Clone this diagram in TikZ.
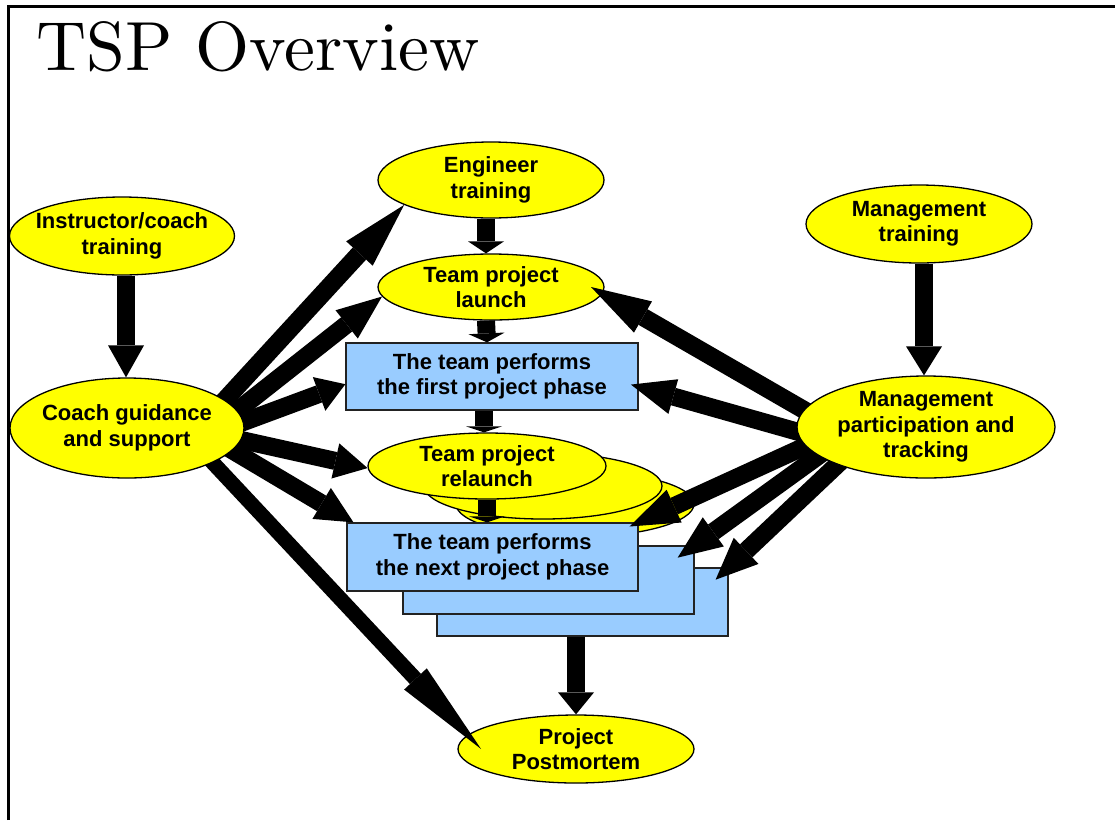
\documentclass[tikz,border=0pt]{standalone}
\usepackage{fontspec}
\newfontfamily\labelfont{Liberation Sans}
\newfontfamily\titlefont{lmroman10-regular.otf}
\usetikzlibrary{shapes.geometric,arrows.meta,calc}
\pgfdeclarelayer{back}
\pgfdeclarelayer{front}
\pgfsetlayers{back,main,front}
\definecolor{ovalyellow}{HTML}{FFFF00}
\definecolor{panelblue}{HTML}{99CCFF}
\definecolor{panelline}{HTML}{222222}
\begin{document}
\begin{tikzpicture}[x=1pt,y=-1pt,
  oval/.style={ellipse, draw=black, line width=1.3pt, fill=ovalyellow, inner sep=0pt,
    align=center, text=black, font=\labelfont\bfseries\fontsize{22}{25.5}\selectfont},
  panel/.style={rectangle, draw=panelline, line width=1.3pt, fill=panelblue, inner sep=0pt,
    align=center, text=black, font=\labelfont\bfseries\fontsize{22}{25.5}\selectfont},
  barrow/.style={draw=black, line width=18pt, shorten <=-12pt,
    -{Triangle[length=#1,width=36pt,line width=0pt]}},
  slimarrow/.style={draw=black, line width=15pt, shorten <=-12pt,
    -{Triangle[length=#1,width=31pt,line width=0pt]}}
]
\useasboundingbox (0,0) rectangle (1115,820);

% nodes that receive arrows sit below the arrows
\begin{pgfonlayer}{back}
  \fill[white] (0,0) rectangle (1115,820);
  % slide frame and heading
  \draw[line width=2.2pt] (8.5,820) -- (8.5,6.5) -- (1115,6.5);
  \node[anchor=base west, inner sep=0pt, font=\titlefont\fontsize{69.5}{69.5}\selectfont] (title) at (36,70) {TSP Overview};

  \node[oval, inner xsep=-14pt, minimum width=225pt, minimum height=78pt] (instr) at (122,236) {Instructor/coach\\training};
  \node[oval, minimum width=226pt, minimum height=76pt] (eng) at (491,180) {Engineer\\training};
  \node[oval, minimum width=226pt, minimum height=66pt] (launch) at (491,287) {Team project\\launch};
  \node[oval, minimum width=226pt, minimum height=78pt] (mtrain) at (919,224) {Management\\training};
  \node[panel, minimum width=292pt, minimum height=67pt] (fbox) at (492,376.5) {The team performs\\the first project phase};
  % stacked relaunch ovals
  \node[oval, minimum width=238pt, minimum height=66pt] (rel3) at (575,504) {};
  \node[oval, minimum width=238pt, minimum height=66pt] (rel2) at (543,486) {};
  \node[oval, minimum width=238pt, minimum height=66pt] (rel) at (487,466) {Team project\\relaunch};
  % stacked phase panels
  \node[panel, minimum width=291pt, minimum height=68pt] (box3) at (582.5,602) {};
  \node[panel, minimum width=291pt, minimum height=68pt] (box2) at (548.5,580) {};
  \node[panel, minimum width=291pt, minimum height=68pt] (box1) at (492.5,557) {The team performs\\the next project phase};
  \node[oval, minimum width=236pt, minimum height=68pt] (post) at (576,749) {Project\\Postmortem};
\end{pgfonlayer}

% the two hub ovals lie above the arrows leaving them
\begin{pgfonlayer}{front}
  \node[oval, inner xsep=-6pt, minimum width=234pt, minimum height=100pt] (coach) at (127,428) {Coach guidance\\and support};
  \node[oval, minimum width=258pt, minimum height=102pt] (mpart) at (926,427) {Management\\participation and\\tracking};
\end{pgfonlayer}

% vertical flow
\draw[barrow=32pt, shorten <=0pt] ([xshift=4pt]instr.south) -- ([xshift=4pt]instr.south |- coach.north);
\draw[barrow=29pt, shorten <=0pt] ([xshift=5pt]mtrain.south) -- ([xshift=5pt]mtrain.south |- mpart.north);
\draw[barrow=12pt, shorten <=0pt] ([xshift=-5pt]eng.south) -- ([xshift=-5pt]launch.north);
\draw[barrow=9pt, shorten <=0pt] ([xshift=-5pt]launch.south) -- ([xshift=-5pt]fbox.north);
\draw[barrow=6pt, shorten <=0pt] ([xshift=-3pt]rel.north |- fbox.south) -- ([xshift=-3pt]rel.north);
\draw[barrow=6pt, shorten <=0pt] (rel.south) -- (rel.south |- box1.north);
\draw[barrow=22pt, shorten <=0pt] (post.north |- box3.south) -- (post.north);

% coaching arrows
\draw[barrow=66pt] (coach.16) -- (eng.196);
\draw[barrow=45pt] (coach.9) -- (launch.185);
\draw[barrow=28pt] (coach.3) -- (fbox.183);
\draw[barrow=33pt] (coach.-6) -- (rel.181);
\draw[barrow=37pt] (coach.-12) -- (box1.166);
\draw[slimarrow=96pt] (coach.-22) -- ($(post.west)!0.1!(post.east)$);

% management arrows
\draw[barrow=60pt] (mpart.172) -- ($(launch.east)!0.06!(launch.west)$);
\draw[barrow=44pt, shorten >=-8pt] (mpart.182) -- (fbox.-4);
\draw[barrow=49pt, shorten >=-10pt] (mpart.189) -- (box1.north east);
\draw[barrow=44pt, shorten >=-21pt] (mpart.195) -- (box2.north east);
\draw[barrow=42pt, shorten >=-18pt] (mpart.203) -- (box3.north east);
\end{tikzpicture}
\end{document}
